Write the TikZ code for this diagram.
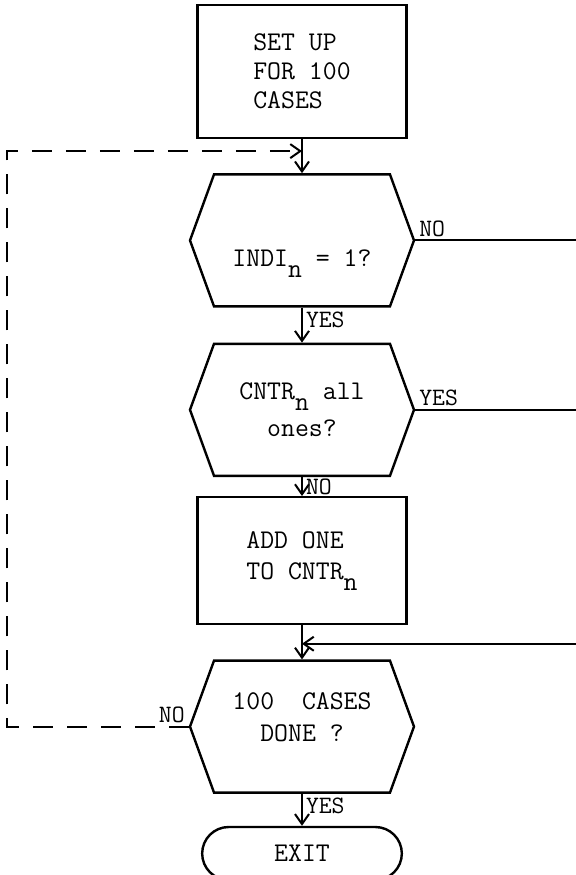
\documentclass[tikz,border=0pt]{standalone}
\usepackage{tikz}
\usetikzlibrary{shapes.symbols}
\usetikzlibrary{shapes.misc}
\usetikzlibrary{arrows.meta}
\usetikzlibrary{positioning}
\usetikzlibrary{calc}

\newcommand{\lown}{\raisebox{-5.5pt}{n}}

\begin{document}
\begin{tikzpicture}
                [every node/.style={font=\ttfamily\fontsize{13.5}{14.5}\selectfont},
                 procbox/.style={rectangle, draw, line width=1.2pt, minimum width=104.5pt, align=left},
                 decision/.style={signal, signal to=west and east, signal pointer angle=140, draw, line width=1.2pt, minimum width=112pt, minimum height=66pt, align=center},
                 terminal/.style={rounded rectangle, draw, line width=1.2pt, minimum width=106.5pt, minimum height=26.5pt},
                 lbl/.style={font=\ttfamily\fontsize{12.5}{14}\selectfont, inner sep=1.5pt},
                 flow/.style={line width=1pt, -{Straight Barb[length=5pt,width=7pt]}},
                 wire/.style={line width=1pt},
                 back/.style={line width=1pt, dash pattern=on 10pt off 7pt, -{Straight Barb[length=5pt,width=7pt]}}]
                \useasboundingbox (0,0) rectangle (288pt,-437.5pt);
                \node (setup) [procbox, minimum height=66.5pt] at (151pt,-35.75pt) {SET UP\\FOR 100\\CASES};
                \node (indi) [decision, below=17pt of setup] {\raisebox{-13pt}[0pt][0pt]{INDI\lown{} = 1?}};
                \node (cntr) [decision, below=17.5pt of indi] {CNTR\lown{} all\\[4pt]ones?};
                \node (addone) [procbox, minimum height=63.5pt, below=9.5pt of cntr] {ADD ONE\\[1pt]TO CNTR\lown};
                \node (done) [decision, below=17pt of addone] {\raisebox{0pt}[0pt][0pt]{\begin{tabular}{@{}c@{}}100~~CASES\\[1.5pt]DONE ?\end{tabular}}};
                \node (exit) [terminal, below=16pt of done] {EXIT};
                \coordinate (join1) at ($(setup.south)!0.35!(indi.north)$);
                \coordinate (join2) at ($(addone.south)!0.54!(done.north)$);
                \coordinate (rim) at (288pt,0);
                \coordinate (loop) at (3.5pt,0);
                \draw[flow] (setup.south) -- (indi.north);
                \draw[wire] (indi.east) node[lbl, anchor=south west] (no1) {NO} -- (indi.east -| rim);
                \draw[flow] (indi.south) -- node[lbl, anchor=north west, pos=0] (yes1) {YES} (cntr.north);
                \draw[wire] (cntr.east) node[lbl, anchor=south west] (yes2) {YES} -- (cntr.east -| rim);
                \draw[flow] (cntr.south) -- node[lbl, anchor=west, pos=0.5] (no2) {NO} (addone.north);
                \draw[flow] (addone.south) -- (done.north);
                \draw[flow] (join2 -| rim) -- (join2);
                \draw[back] (done.west) node[lbl, anchor=south east] (no3) {NO} -| (loop |- join1) -- (join1);
                \draw[flow] (done.south) -- node[lbl, anchor=north west, pos=0] (yes3) {YES} (exit.north);
            \end{tikzpicture}
\end{document}
